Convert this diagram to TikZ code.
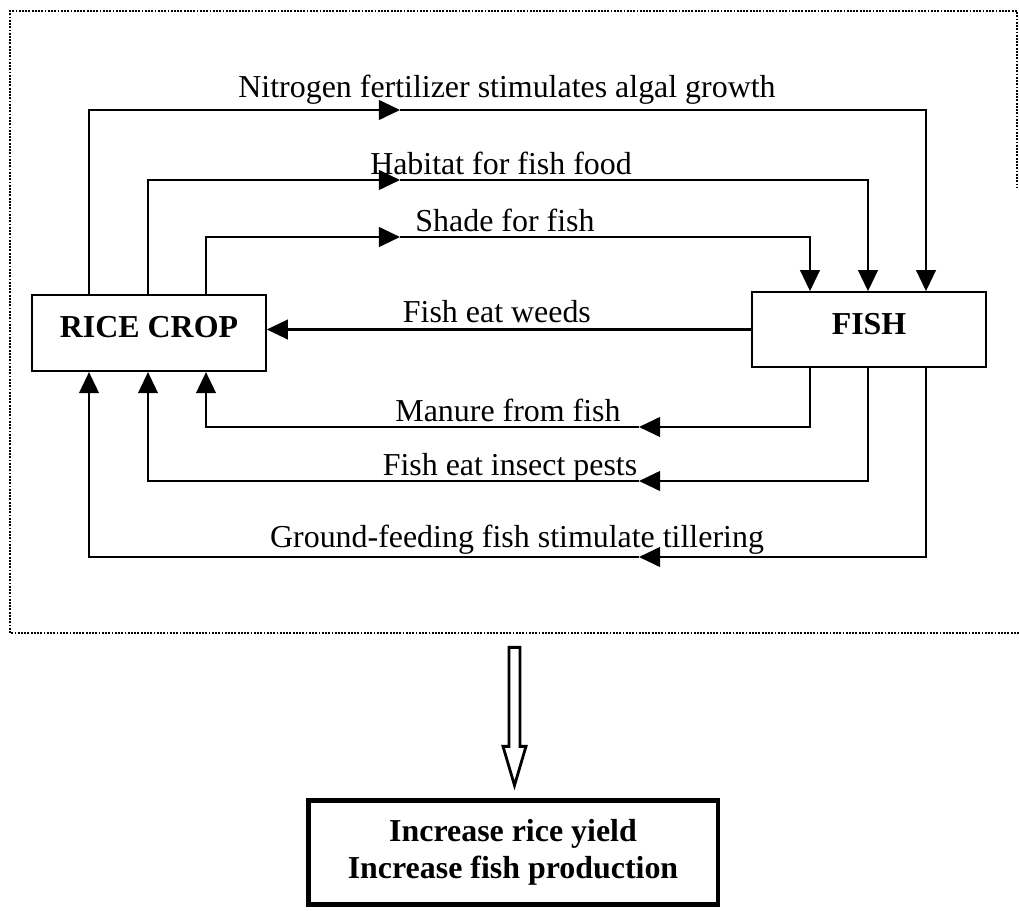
\documentclass[tikz,border=0pt]{standalone}
\usepackage{fontspec}
\setmainfont{Liberation Serif}
\usetikzlibrary{arrows.meta}

\newcommand{\figfont}{\fontsize{22.7pt}{26pt}\selectfont}

\begin{document}
\begin{tikzpicture}[x=0.025cm,y=-0.025cm,
    box/.style={draw,line width=1.6pt,font=\figfont\bfseries,text depth=8.6pt,minimum width=166pt},
    lbl/.style={font=\figfont,anchor=base,inner sep=0pt},
    conn/.style={line width=1.5pt,-{Triangle[length=15pt,width=14pt]}}]
    \pgfmathsetmacro{\yNitro}{110}
    \pgfmathsetmacro{\yHabitat}{180}
    \pgfmathsetmacro{\yShade}{237}
    \pgfmathsetmacro{\yManure}{427}
    \pgfmathsetmacro{\yInsect}{481}
    \pgfmathsetmacro{\yGround}{557}
    \pgfmathsetmacro{\xTop}{400}
    \pgfmathsetmacro{\xBottom}{639}

    \useasboundingbox (0,0) rectangle (1019,911);

    % Rahmen
    \draw[densely dotted,line width=1.3pt] (1019,633) -- (10,633) -- (10,11) -- (1017,11) -- (1017,187);

    % Reis und Fisch
    \node[box,minimum height=54pt] (rice) at (149,333) {RICE CROP};
    \node[box,minimum height=53pt] (fish) at (869,329.5) {FISH};

    % Spalten
    \coordinate (rA) at (89,0);
    \coordinate (rB) at (148,0);
    \coordinate (rC) at (206,0);
    \coordinate (fA) at (810,0);
    \coordinate (fB) at (868,0);
    \coordinate (fC) at (926,0);

    % Reis -> Fisch
    \coordinate (tipNitro) at (\xTop,\yNitro);
    \draw[conn] (rice.north -| rA) |- (tipNitro);
    \draw[conn] (tipNitro) -| (fish.north -| fC);
    \node[lbl] (tNitro) at (507,98) {Nitrogen fertilizer stimulates algal growth};

    \coordinate (tipHabitat) at (\xTop,\yHabitat);
    \draw[conn] (rice.north -| rB) |- (tipHabitat);
    \draw[conn] (tipHabitat) -| (fish.north -| fB);
    \node[lbl] (tHabitat) at (501,175) {Habitat for fish food};

    \coordinate (tipShade) at (\xTop,\yShade);
    \draw[conn] (rice.north -| rC) |- (tipShade);
    \draw[conn] (tipShade) -| (fish.north -| fA);
    \node[lbl] (tShade) at (505,232) {Shade for fish};

    % Fisch -> Reis
    \draw[conn] (fish.west) -- node[lbl,pos=0.525,yshift=5pt] (tWeeds) {Fish eat weeds} (fish.west -| rice.east);

    \coordinate (tipManure) at (\xBottom,\yManure);
    \draw[conn] (fish.south -| fA) |- (tipManure);
    \draw[conn] (tipManure) -| (rice.south -| rC);
    \node[lbl] (tManure) at (508,422) {Manure from fish};

    \coordinate (tipInsect) at (\xBottom,\yInsect);
    \draw[conn] (fish.south -| fB) |- (tipInsect);
    \draw[conn] (tipInsect) -| (rice.south -| rB);
    \node[lbl] (tInsect) at (510,475) {Fish eat insect pests};

    \coordinate (tipGround) at (\xBottom,\yGround);
    \draw[conn] (fish.south -| fC) |- (tipGround);
    \draw[conn] (tipGround) -| (rice.south -| rA);
    \node[lbl] (tGround) at (517,547) {Ground-feeding fish stimulate tillering};

    % Ergebnis
    \node[draw,line width=3pt,font=\figfont\bfseries,align=center,minimum width=291pt,minimum height=74pt] (result) at (513,852.5) {Increase rice yield\\Increase fish production};

    % Pfeil
    \draw[line width=2pt] (result.north) ++(1.5,-13) -- ++(-11.5,-39) -- ++(6,0) -- ++(0,-99) -- ++(11,0) -- ++(0,99) -- ++(6,0) -- cycle;
\end{tikzpicture}
\end{document}
